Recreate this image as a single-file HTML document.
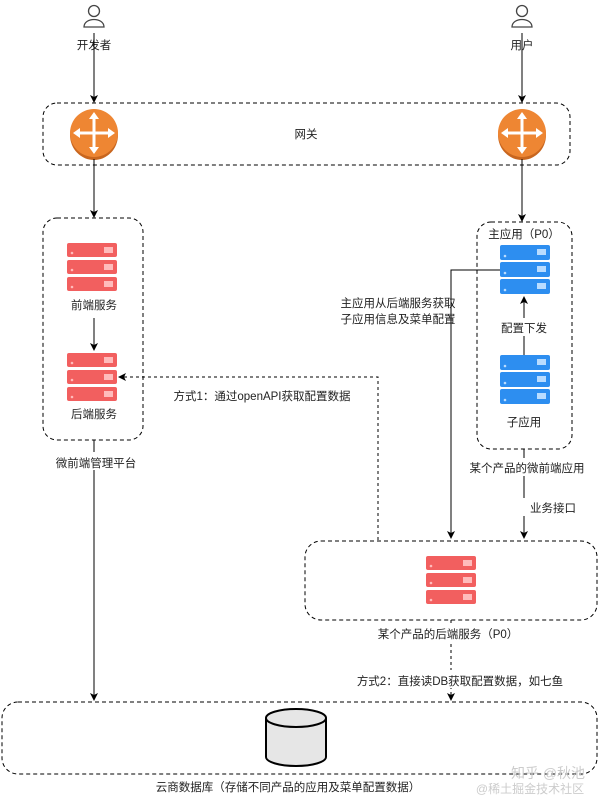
<!DOCTYPE html>
<html><head><meta charset="utf-8"><style>
body{margin:0;background:#fff}
svg{display:block}
text{font-family:"Liberation Sans","Noto Sans CJK SC",sans-serif;font-size:11.5px;fill:#222}
</style></head><body>
<svg width="601" height="798" viewBox="0 0 601 798" xmlns="http://www.w3.org/2000/svg">
<defs>
<marker id="a" markerWidth="8" markerHeight="8" refX="7" refY="4" orient="auto" markerUnits="userSpaceOnUse"><path d="M0,0 L8,4 L0,8 L2,4z" fill="#000"/></marker>
<g id="srvR"><rect x="0" y="0" width="50" height="14" rx="2" fill="#f25f5f"/><rect x="0" y="17" width="50" height="14" rx="2" fill="#f25f5f"/><rect x="0" y="34" width="50" height="14" rx="2" fill="#f25f5f"/>
<g fill="#fbb"><circle cx="5" cy="10" r="1.3"/><circle cx="5" cy="27" r="1.3"/><circle cx="5" cy="44" r="1.3"/><rect x="37" y="4" width="9" height="6"/><rect x="37" y="21" width="9" height="6"/><rect x="37" y="38" width="9" height="6"/></g></g>
<g id="srvB"><rect x="0" y="0" width="50" height="15" rx="2" fill="#2d8ef0"/><rect x="0" y="17" width="50" height="15" rx="2" fill="#2d8ef0"/><rect x="0" y="34" width="50" height="15" rx="2" fill="#2d8ef0"/>
<g fill="#b9dcff"><circle cx="5" cy="11" r="1.3"/><circle cx="5" cy="28" r="1.3"/><circle cx="5" cy="45" r="1.3"/><rect x="37" y="4" width="9" height="6"/><rect x="37" y="21" width="9" height="6"/><rect x="37" y="38" width="9" height="6"/></g></g>
<g id="rt"><ellipse cx="0" cy="2" rx="24" ry="25" fill="#c8661f"/><ellipse cx="0" cy="0" rx="24" ry="24" fill="#ee8633"/>
<g stroke="#fff" stroke-width="3"><line x1="-18" y1="0" x2="18" y2="0"/><line x1="0" y1="-18" x2="0" y2="18"/></g>
<g fill="#fff"><path d="M-21,0 l7,-5 v10z"/><path d="M21,0 l-7,-5 v10z"/><path d="M0,-21 l-5,7 h10z"/><path d="M0,21 l-5,-7 h10z"/></g></g>
<g id="usr" fill="none" stroke="#444" stroke-width="1.3"><circle cx="0" cy="-4" r="5.5"/><path d="M-10,12 C-10,2 10,2 10,12 Z"/></g>
</defs>
<use href="#usr" x="94" y="15"/><use href="#usr" x="522" y="15"/>
<text x="94" y="49" text-anchor="middle">开发者</text>
<text x="522" y="49" text-anchor="middle">用户</text>
<g fill="none" stroke="#000" stroke-dasharray="4,3">
<rect x="43" y="103" width="527" height="62" rx="14"/>
<rect x="43" y="218" width="100" height="222" rx="14"/>
<rect x="477" y="222" width="95" height="227" rx="14"/>
<rect x="305" y="541" width="292" height="79" rx="16"/>
<rect x="2" y="702" width="595" height="72" rx="16"/>
</g>
<use href="#rt" x="94" y="133"/><use href="#rt" x="522" y="133"/>
<text x="306" y="138" text-anchor="middle">网关</text>
<g stroke="#000" fill="none" marker-end="url(#a)">
<line x1="94" y1="33" x2="94" y2="102"/>
<line x1="94" y1="159" x2="94" y2="217"/>
<line x1="522" y1="33" x2="522" y2="102"/>
<line x1="522" y1="159" x2="522" y2="221"/>
<line x1="94" y1="318" x2="94" y2="350"/>
<line x1="94" y1="440" x2="94" y2="700"/>
<line x1="524" y1="355" x2="524" y2="297"/>
<polyline points="500,270 451,270 451,538"/>
<line x1="524" y1="449" x2="524" y2="538"/>
</g>
<g stroke="#000" fill="none" stroke-dasharray="3,3" marker-end="url(#a)">
<polyline points="378,540 378,377 119,377"/>
<line x1="451" y1="620" x2="451" y2="700"/>
</g>
<use href="#srvR" x="67" y="243"/><use href="#srvR" x="67" y="353"/><use href="#srvR" x="426" y="556"/>
<use href="#srvB" x="500" y="245"/><use href="#srvB" x="500" y="355"/>
<g fill="#fff"><rect x="40" y="452" width="110" height="18"/><rect x="466" y="458" width="120" height="18"/><rect x="520" y="498" width="64" height="18"/><rect x="350" y="670" width="220" height="18"/><rect x="360" y="624" width="180" height="18"/><rect x="490" y="318" width="66" height="18"/></g>
<text x="94" y="309" text-anchor="middle">前端服务</text>
<text x="94" y="418" text-anchor="middle">后端服务</text>
<text x="96" y="467" text-anchor="middle">微前端管理平台</text>
<text x="524" y="238" text-anchor="middle">主应用（P0）</text>
<text x="524" y="332" text-anchor="middle">配置下发</text>
<text x="524" y="426" text-anchor="middle">子应用</text>
<text x="527" y="472" text-anchor="middle">某个产品的微前端应用</text>
<text x="553" y="512" text-anchor="middle">业务接口</text>
<text x="398" y="307" text-anchor="middle">主应用从后端服务获取</text>
<text x="398" y="323" text-anchor="middle">子应用信息及菜单配置</text>
<text x="262" y="400" text-anchor="middle">方式1：通过openAPI获取配置数据</text>
<text x="448" y="638" text-anchor="middle">某个产品的后端服务（P0）</text>
<text x="460" y="685" text-anchor="middle">方式2：直接读DB获取配置数据，如七鱼</text>
<g stroke="#000" stroke-width="2"><path d="M266,718 V757 A30,9 0 0 0 326,757 V718" fill="#e6e6e6"/><ellipse cx="296" cy="718" rx="30" ry="9" fill="#e6e6e6"/></g>
<text x="288" y="791" text-anchor="middle">云商数据库（存储不同产品的应用及菜单配置数据）</text>
<text x="548" y="778" text-anchor="middle" style="fill:#ccc;font-size:14px">知乎 @秋池</text>
<text x="530" y="793" text-anchor="middle" style="fill:#ccc;font-size:12px">@稀土掘金技术社区</text>
</svg>
</body></html>
